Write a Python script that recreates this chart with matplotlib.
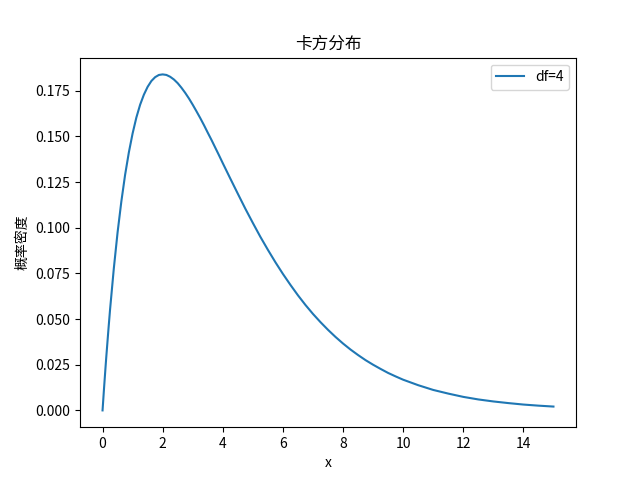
import matplotlib
matplotlib.use("Agg")
import matplotlib.pyplot as plt

plt.rcParams['font.family'] = ['Noto Sans CJK SC', 'DejaVu Sans']
plt.rcParams['axes.unicode_minus'] = False

# values (df=4)
x = [0, 0.05, 0.1, 0.125, 0.2, 0.25, 0.375, 0.5, 0.625, 0.75, 0.875, 1,
     1.125, 1.25, 1.375, 1.5, 1.625, 1.75, 1.875, 2, 2.125, 2.25, 2.375,
     2.5, 2.625, 2.75, 2.875, 3, 3.125, 3.25, 3.375, 3.5, 3.625, 3.75,
     3.875, 4, 4.25, 4.5, 4.75, 5, 5.25, 5.5, 5.75, 6, 6.25, 6.5, 6.75,
     7, 7.25, 7.5, 7.75, 8, 8.25, 8.5, 8.75, 9, 9.25, 9.5, 9.75, 10,
     10.5, 11, 11.5, 12, 12.5, 13, 13.5, 14, 14.5, 15]
density = [0, 0.0122, 0.0238, 0.0294, 0.0452, 0.0552, 0.0777, 0.0974,
           0.1143, 0.1289, 0.1412, 0.1516, 0.1603, 0.1673, 0.1728, 0.1771,
           0.1803, 0.1824, 0.1836, 0.1839, 0.1836, 0.1826, 0.1811, 0.1791,
           0.1766, 0.1738, 0.1707, 0.1673, 0.1637, 0.1600, 0.1561, 0.1520,
           0.1480, 0.1438, 0.1396, 0.1353, 0.1269, 0.1186, 0.1104, 0.1026,
           0.0950, 0.0879, 0.0811, 0.0747, 0.0687, 0.0630, 0.0577, 0.0528,
           0.0483, 0.0441, 0.0402, 0.0366, 0.0333, 0.0303, 0.0275, 0.0250,
           0.0227, 0.0205, 0.0186, 0.0168, 0.0138, 0.0112, 0.0092, 0.0074,
           0.0060, 0.0049, 0.0040, 0.0032, 0.0026, 0.0021]

fig, ax = plt.subplots(figsize=(6.4, 4.8), dpi=100)
ax.plot(x, density, label='df=4')
ax.set_title('卡方分布')
ax.set_xlabel('x')
ax.set_ylabel('概率密度')
ax.legend()

fig.savefig('out.png')
